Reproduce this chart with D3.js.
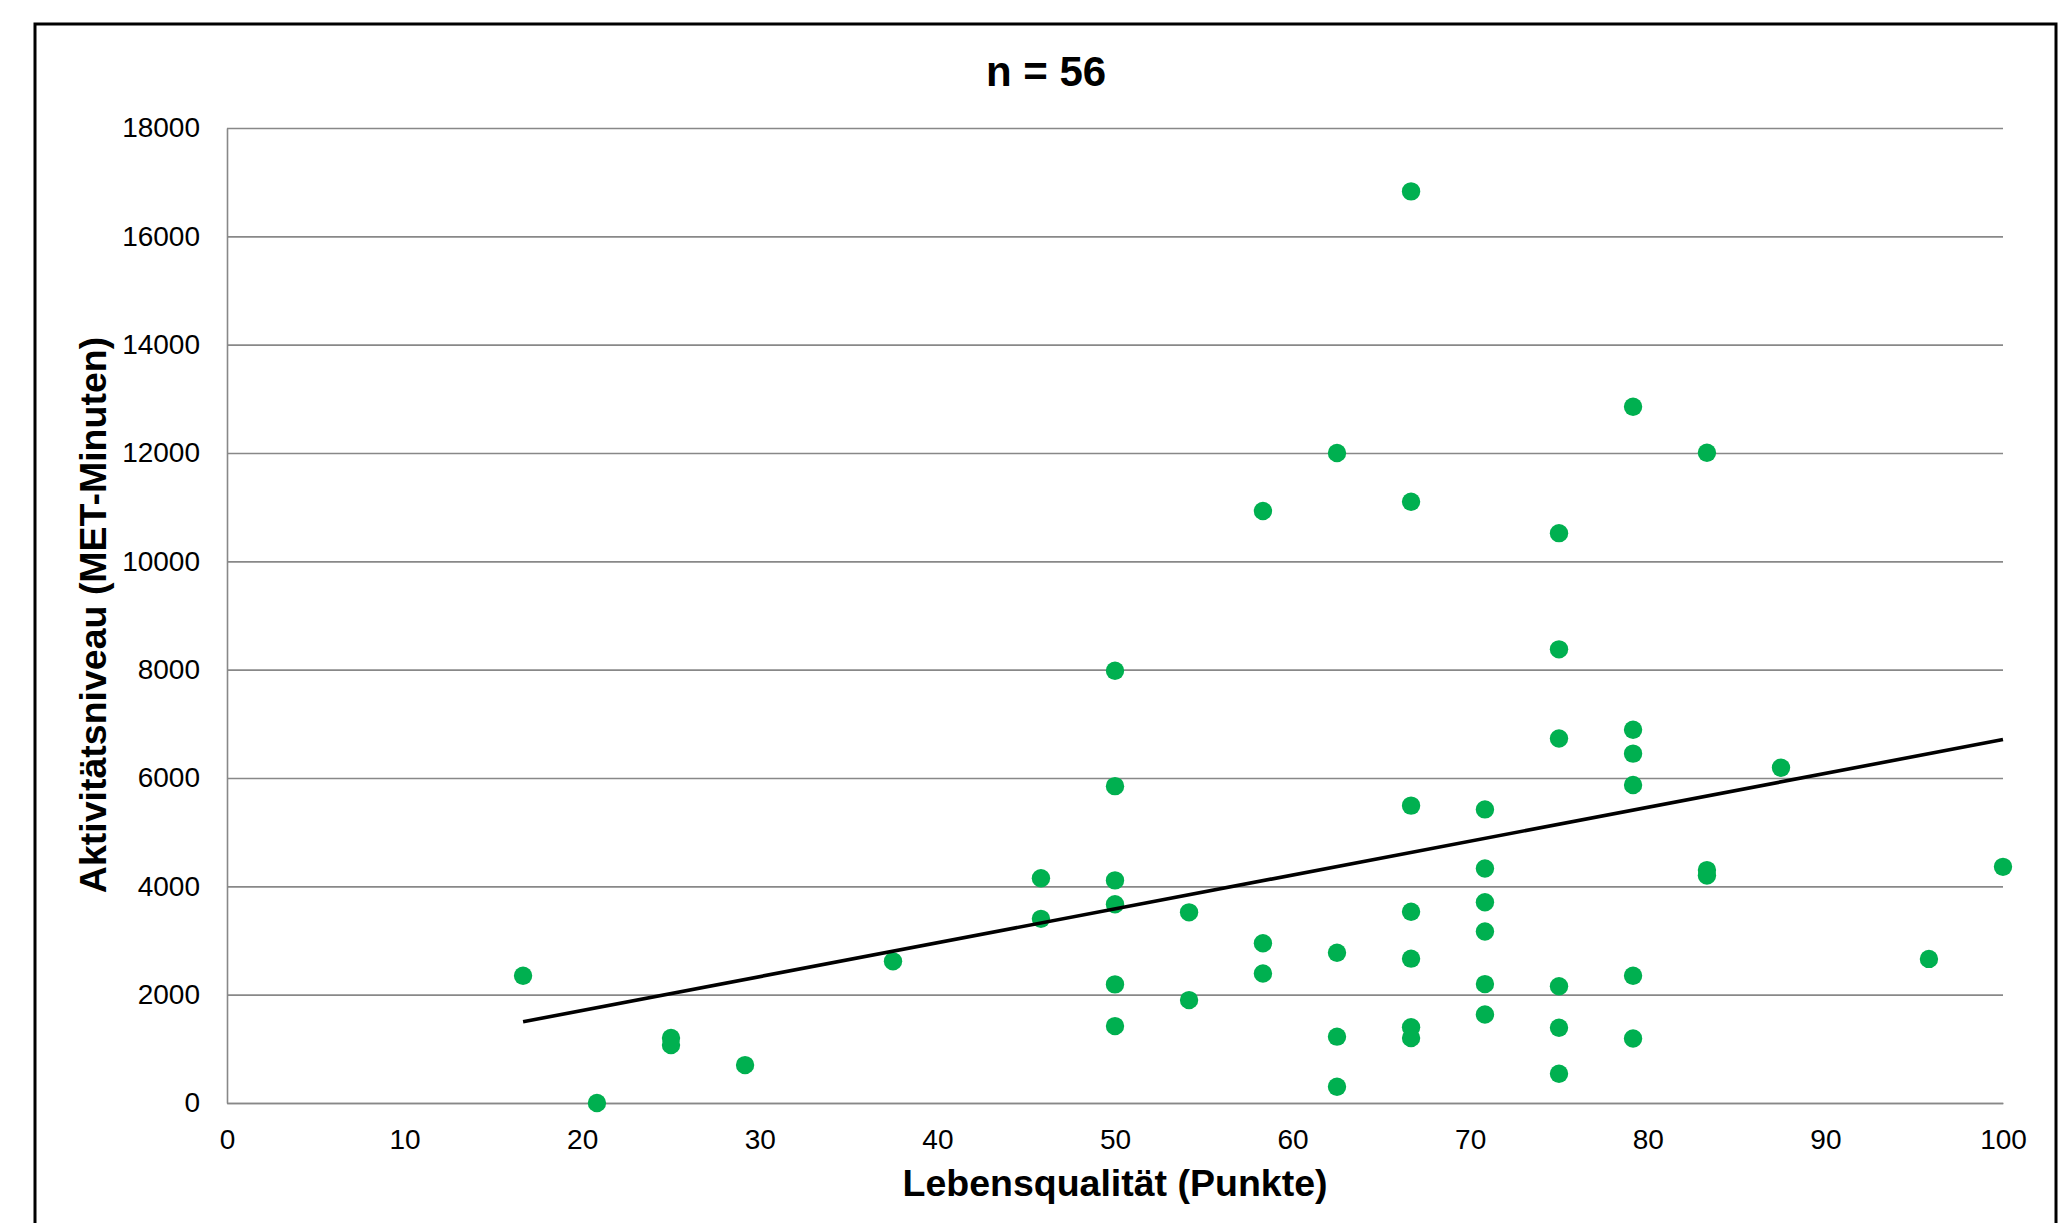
<!DOCTYPE html>
<html>
<head>
<meta charset="utf-8">
<script src="https://cdn.jsdelivr.net/npm/d3@7"></script>
<style>
  html, body { margin: 0; padding: 0; background: #fff; }
  svg { display: block; }
  .axis text { font-family: 'Liberation Sans', Arial, sans-serif; font-size: 28px; fill: #000; }
  .grid line { stroke: #888888; stroke-width: 1.6; }
  .grid path, .xAxis path { stroke: #888888; stroke-width: 1.6; }
  .label { font-family: 'Liberation Sans', Arial, sans-serif; font-weight: bold; fill: #000; }
</style>
</head>
<body>
<svg id="chart"></svg>
<script>
// Lebensqualität (Punkte) je Proband
const lebensqualitaet = [
  16.67, 20.83, 25, 25, 29.17, 37.5, 45.83, 45.83,
  50, 50, 50, 50, 50, 50,
  54.17, 54.17,
  58.33, 58.33, 58.33,
  62.5, 62.5, 62.5, 62.5,
  66.67, 66.67, 66.67, 66.67, 66.67, 66.67, 66.67,
  70.83, 70.83, 70.83, 70.83, 70.83, 70.83,
  75, 75, 75, 75, 75, 75,
  79.17, 79.17, 79.17, 79.17, 79.17, 79.17,
  83.33, 83.33, 83.33,
  87.5, 95.83, 100
]

// Aktivitätsniveau (MET-Minuten), same order
const aktivitaet = [
  2350, 0, 1200, 1070, 700, 2615, 4150, 3400,
  7980, 5850, 4110, 3670, 2190, 1420,
  3520, 1900,
  10930, 2950, 2390,
  12000, 2775, 1225, 300,
  16830, 11100, 5490, 3530, 2665, 1400, 1200,
  5420, 4330, 3705, 3165, 2195, 1635,
  10520, 8375, 6730, 2155, 1390, 540,
  12855, 6890, 6450, 5870, 2350, 1190,
  12005, 4300, 4200,
  6190, 2660, 4360
]

// linear trend line as drawn in the picture
const trendX = [16.67, 100]
const trendY = [1500, 6710]

const xTicks = [0, 10, 20, 30, 40, 50, 60, 70, 80, 90, 100]
const yTicks = [0, 2000, 4000, 6000, 8000, 10000, 12000, 14000, 16000, 18000]

const title = 'n = 56'
const xTitle = 'Lebensqualität (Punkte)'
const yTitle = 'Aktivitätsniveau (MET-Minuten)'

const width = 2071
const height = 1223
const margin = { top: 128, right: 68, bottom: 120, left: 227 }

const svg = d3.select('#chart')
  .attr('width', width)
  .attr('height', height)

// outer chart frame (bottom edge runs off the picture)
svg.append('rect')
  .attr('x', 35)
  .attr('y', 24)
  .attr('width', 2021)
  .attr('height', 1300)
  .attr('fill', '#fff')
  .attr('stroke', '#000')
  .attr('stroke-width', 3)

const x = d3.scaleLinear()
  .domain([0, 100])
  .range([margin.left, width - margin.right])

const y = d3.scaleLinear()
  .domain([0, 18000])
  .range([height - margin.bottom, margin.top])

const plotWidth = x.range()[1] - x.range()[0]

svg.append('g')
  .attr('class', 'axis grid')
  .attr('transform', `translate(${margin.left},0)`)
  .call(d3.axisLeft(y)
    .tickValues(yTicks)
    .tickFormat(d3.format('d'))
    .tickSize(-plotWidth)
    .tickSizeOuter(0)
    .tickPadding(27))

svg.append('g')
  .attr('class', 'axis xAxis')
  .attr('transform', `translate(0,${y(0)})`)
  .call(d3.axisBottom(x).tickValues(xTicks).tickSize(0).tickPadding(26))

const points = d3.zip(lebensqualitaet, aktivitaet)

svg.append('g')
  .selectAll('circle')
  .data(points)
  .enter()
  .append('circle')
  .attr('cx', d => x(d[0]))
  .attr('cy', d => y(d[1]))
  .attr('r', 9.2)
  .attr('fill', '#00B050')

const trendLine = d3.line()
  .x(d => x(d[0]))
  .y(d => y(d[1]))

svg.append('path')
  .datum(d3.zip(trendX, trendY))
  .attr('fill', 'none')
  .attr('stroke', '#000')
  .attr('stroke-width', 3.6)
  .attr('d', trendLine)

svg.append('text')
  .attr('class', 'label')
  .attr('x', 1046)
  .attr('y', 86)
  .attr('text-anchor', 'middle')
  .attr('font-size', 42)
  .text(title)

svg.append('text')
  .attr('class', 'label')
  .attr('x', (x.range()[0] + x.range()[1]) / 2)
  .attr('y', 1196)
  .attr('text-anchor', 'middle')
  .attr('font-size', 37.5)
  .text(xTitle)

svg.append('text')
  .attr('class', 'label')
  .attr('transform', 'translate(106,615) rotate(-90)')
  .attr('text-anchor', 'middle')
  .attr('font-size', 37.5)
  .text(yTitle)
</script>
</body>
</html>
